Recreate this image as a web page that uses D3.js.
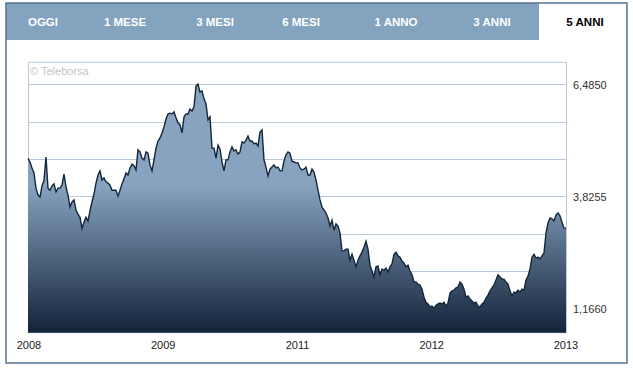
<!DOCTYPE html>
<html>
<head>
<meta charset="utf-8">
<script src="https://cdn.jsdelivr.net/npm/d3@7"></script>
<style>
  html, body { margin: 0; padding: 0; background: #fff; }
  svg { display: block; font-family: "Liberation Sans", Arial, Helvetica, sans-serif; }
</style>
</head>
<body>
<svg id="chart" width="633" height="369"></svg>
<script>
// ---------- data ----------
const tabs = ["OGGI", "1 MESE", "3 MESI", "6 MESI", "1 ANNO", "3 ANNI", "5 ANNI"];
const activeTab = "5 ANNI";
const xLabels = ["2008", "2009", "2011", "2012", "2013"];
const gridValues = [6.4850, 5.5985, 4.7120, 3.8255, 2.9390, 2.0525, 1.1660];
const yLabelValues = [6.4850, 3.8255, 1.1660];
const prices = [
  4.73,4.64,4.50,4.38,4.02,3.86,3.81,4.07,4.21,4.76,4.02,3.97,4.07,4.12,3.93,4.02,4.02,4.09,4.35,4.05,
  3.86,3.57,3.69,3.74,3.50,3.40,3.33,3.07,3.21,3.33,3.24,3.48,3.69,3.88,4.14,4.33,4.43,4.21,4.26,4.17,
  4.14,4.09,3.97,3.97,3.97,3.83,3.97,4.12,4.24,4.38,4.33,4.50,4.59,4.55,4.45,4.93,4.88,4.73,4.69,4.88,
  4.85,4.57,4.43,4.69,4.97,5.14,5.21,5.33,5.47,5.66,5.78,5.80,5.78,5.83,5.69,5.57,5.52,5.33,5.71,5.78,
  5.78,5.90,5.85,5.95,6.44,6.49,6.30,6.33,6.14,6.02,5.64,5.71,4.97,4.97,4.73,5.04,4.95,4.64,4.43,4.69,
  4.69,4.88,5.00,4.90,4.93,4.83,4.88,5.12,5.09,5.16,5.26,5.14,5.14,5.07,5.09,5.02,5.35,5.40,4.69,4.52,
  4.31,4.47,4.52,4.57,4.50,4.52,4.43,4.43,4.66,4.81,4.88,4.85,4.66,4.64,4.62,4.62,4.50,4.45,4.47,4.52,
  4.33,4.33,4.47,4.40,4.21,3.97,3.74,3.57,3.50,3.43,3.31,3.12,3.26,3.02,3.17,3.12,2.95,2.53,2.53,2.57,
  2.57,2.31,2.45,2.31,2.15,2.31,2.41,2.50,2.62,2.76,2.57,2.19,2.05,1.91,2.15,2.17,1.96,2.10,2.07,2.12,
  2.03,2.15,2.22,2.45,2.50,2.41,2.38,2.29,2.24,2.15,2.19,2.05,1.96,1.79,1.79,1.74,1.72,1.62,1.43,1.31,
  1.27,1.20,1.22,1.17,1.24,1.27,1.29,1.27,1.31,1.22,1.29,1.53,1.58,1.60,1.65,1.67,1.79,1.74,1.62,1.43,
  1.46,1.39,1.34,1.29,1.31,1.22,1.20,1.27,1.31,1.41,1.48,1.58,1.65,1.72,1.84,1.96,1.91,1.86,1.86,1.79,
  1.74,1.58,1.46,1.55,1.53,1.60,1.55,1.62,1.60,1.84,1.93,2.10,2.38,2.45,2.36,2.38,2.34,2.41,2.48,2.95,
  3.19,3.31,3.29,3.24,3.38,3.43,3.36,3.21,3.07,3.07
];

// ---------- layout ----------
const svg = d3.select("#chart");
const frame = { x0: 6, y0: 3, x1: 627, y1: 363 };
const tabBar = { y0: 3, y1: 40, activeX0: 539 };
const tabCenters = [43, 125, 215, 301, 396, 492, 585];
const plot = { left: 28, right: 567, top: 62.3, bottom: 332.7 };
const yDomain = [0.587, 7.007];

const fmt = v => v.toFixed(4).replace(".", ",");

// gradient
const defs = svg.append("defs");
const grad = defs.append("linearGradient")
  .attr("id", "areaGrad").attr("gradientUnits", "userSpaceOnUse")
  .attr("x1", 0).attr("x2", 0).attr("y1", 185).attr("y2", plot.bottom);
grad.append("stop").attr("offset", "0%").attr("stop-color", "#87a3bf");
grad.append("stop").attr("offset", "100%").attr("stop-color", "#13233a");

// tab bar
svg.append("rect")
  .attr("x", frame.x0).attr("y", tabBar.y0)
  .attr("width", tabBar.activeX0 - frame.x0).attr("height", tabBar.y1 - tabBar.y0)
  .attr("fill", "#84a3bf");

svg.append("g").selectAll("text").data(tabs).join("text")
  .attr("x", (d, i) => tabCenters[i])
  .attr("y", 25.5)
  .attr("text-anchor", "middle")
  .attr("font-size", "11.5px")
  .attr("font-weight", "bold")
  .attr("fill", d => d === activeTab ? "#000" : "#fff")
  .text(d => d);

// outer frame
svg.append("rect")
  .attr("x", frame.x0).attr("y", frame.y0)
  .attr("width", frame.x1 - frame.x0).attr("height", frame.y1 - frame.y0)
  .attr("fill", "none").attr("stroke", "#56728d").attr("stroke-width", 1.5);

// scales
const x = d3.scaleLinear().domain([0, prices.length - 1]).range([plot.left, plot.right - 1]);
const y = d3.scaleLinear().domain(yDomain).range([plot.bottom, plot.top]);
const xLab = d3.scalePoint().domain(xLabels).range([29, 566]);

// gridlines
svg.append("g").selectAll("line").data(gridValues).join("line")
  .attr("x1", plot.left).attr("x2", plot.right)
  .attr("y1", d => Math.round(y(d)) + 0.5).attr("y2", d => Math.round(y(d)) + 0.5)
  .attr("stroke", "#b9c9da").attr("stroke-width", 1);

// plot frame
svg.append("rect")
  .attr("x", plot.left + 0.5).attr("y", plot.top)
  .attr("width", plot.right - plot.left - 1).attr("height", plot.bottom - plot.top)
  .attr("fill", "none").attr("stroke", "#b9c9da").attr("stroke-width", 1);

// area
const area = d3.area()
  .x((d, i) => x(i))
  .y0(plot.bottom)
  .y1(d => y(d));
svg.append("path").datum(prices)
  .attr("d", area)
  .attr("fill", "url(#areaGrad)");

const line = d3.line()
  .x((d, i) => x(i))
  .y(d => y(d));
svg.append("path").datum(prices)
  .attr("d", line)
  .attr("fill", "none")
  .attr("stroke", "#14263a")
  .attr("stroke-width", 1.4)
  .attr("stroke-linejoin", "miter");

// watermark
svg.append("text")
  .attr("x", 30).attr("y", 75)
  .attr("font-size", "11px")
  .attr("fill", "#c4c4c4")
  .text("© Teleborsa");

// y labels
svg.append("g").selectAll("text").data(yLabelValues).join("text")
  .attr("x", 573)
  .attr("y", d => y(d) + 5)
  .attr("font-size", "11px")
  .attr("fill", "#333")
  .text(d => fmt(d));

// x labels
svg.append("g").selectAll("text").data(xLabels).join("text")
  .attr("x", d => xLab(d))
  .attr("y", 349)
  .attr("text-anchor", "middle")
  .attr("font-size", "11px")
  .attr("fill", "#222")
  .text(d => d);
</script>
</body>
</html>
